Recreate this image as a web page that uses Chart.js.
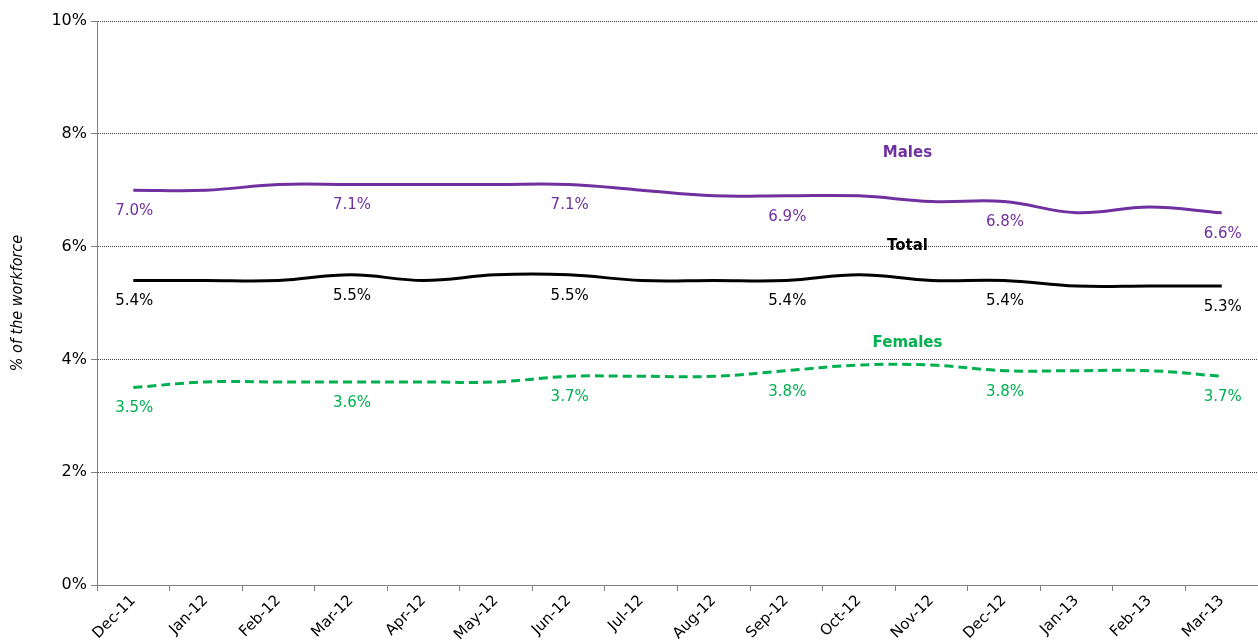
<!DOCTYPE html>
<html>
<head>
<meta charset="utf-8">
<script src="https://cdn.jsdelivr.net/npm/chart.js@4"></script>
<style>
  html, body { margin: 0; padding: 0; background: #fff; }
  #wrap { width: 1258px; height: 641px; }
</style>
</head>
<body>
<div id="wrap"><canvas id="myChart"></canvas></div>
<script>
const months = ['Dec-11', 'Jan-12', 'Feb-12', 'Mar-12', 'Apr-12', 'May-12', 'Jun-12', 'Jul-12',
  'Aug-12', 'Sep-12', 'Oct-12', 'Nov-12', 'Dec-12', 'Jan-13', 'Feb-13', 'Mar-13'];
const males = [7.0, 7.0, 7.1, 7.1, 7.1, 7.1, 7.1, 7.0, 6.9, 6.9, 6.9, 6.8, 6.8, 6.6, 6.7, 6.6];
const total = [5.4, 5.4, 5.4, 5.5, 5.4, 5.5, 5.5, 5.4, 5.4, 5.4, 5.5, 5.4, 5.4, 5.3, 5.3, 5.3];
const females = [3.5, 3.6, 3.6, 3.6, 3.6, 3.6, 3.7, 3.7, 3.7, 3.8, 3.9, 3.9, 3.8, 3.8, 3.8, 3.7];
const labelledPoints = [0, 3, 6, 9, 12, 15];

// series name labels: [text, category, value, colour]
const seriesNames = [
  ['Males', 'Nov-12', 7.66, '#7030A0'],
  ['Total', 'Nov-12', 6.0, '#000000'],
  ['Females', 'Nov-12', 4.29, '#00B050']
];

const grafico = document.getElementById('myChart');

const labelPlugin = {
  id: 'labelPlugin',
  afterDatasetsDraw(chart) {
    const ctx = chart.ctx;
    const xScale = chart.scales.x;
    const yScale = chart.scales.y;
    ctx.save();
    ctx.textAlign = 'center';
    ctx.textBaseline = 'middle';
    ctx.font = '15px "DejaVu Sans"';
    chart.data.datasets.forEach((ds, i) => {
      const meta = chart.getDatasetMeta(i);
      ctx.fillStyle = ds.borderColor;
      labelledPoints.forEach(idx => {
        const pt = meta.data[idx];
        ctx.fillText(ds.data[idx].toFixed(1) + '%', pt.x + 1, pt.y + 21);
      });
    });
    ctx.font = 'bold 15px "DejaVu Sans"';
    seriesNames.forEach(s => {
      ctx.fillStyle = s[3];
      const x = xScale.getPixelForValue(months.indexOf(s[1])) - 24;
      ctx.fillText(s[0], x, yScale.getPixelForValue(s[2]));
    });
    ctx.restore();
  }
};

new Chart(grafico, {
  type: 'line',
  data: {
    labels: months,
    datasets: [
      { label: 'Males', data: males, borderColor: '#7030A0', borderWidth: 3, pointRadius: 0, tension: 0.4 },
      { label: 'Total', data: total, borderColor: '#000000', borderWidth: 3, pointRadius: 0, tension: 0.4 },
      { label: 'Females', data: females, borderColor: '#00B050', borderWidth: 3, borderDash: [9, 5], pointRadius: 0, tension: 0.4 }
    ]
  },
  options: {
    responsive: true,
    maintainAspectRatio: false,
    animation: false,
    layout: { padding: { top: 21, right: 0, left: 0, bottom: 0 } },
    plugins: {
      legend: { display: false },
      tooltip: { enabled: false }
    },
    scales: {
      x: {
        offset: true,
        grid: { display: true, drawOnChartArea: false, offset: true, color: '#808080', tickLength: 6 },
        border: { color: '#808080', width: 1 },
        ticks: { color: '#000', font: { family: 'DejaVu Sans', size: 15 }, minRotation: 45, maxRotation: 45, padding: 1 },
        afterFit(scale) { scale.height = 56; }
      },
      y: {
        min: 0,
        max: 10,
        ticks: {
          stepSize: 2,
          color: '#000',
          font: { family: 'DejaVu Sans', size: 16 },
          padding: 4,
          callback: v => v + '%'
        },
        grid: { color: '#444', tickLength: 6, lineWidth: 1, tickColor: '#808080' },
        border: { color: '#808080', width: 1, dash: [1, 1] },
        title: {
          display: true,
          text: '% of the workforce',
          color: '#000',
          font: { family: 'DejaVu Sans Condensed', style: 'italic', size: 16 },
          padding: { top: 8, bottom: 14 }
        },
        afterFit(scale) { scale.width = 97; }
      }
    }
  },
  plugins: [labelPlugin]
});
</script>
</body>
</html>
